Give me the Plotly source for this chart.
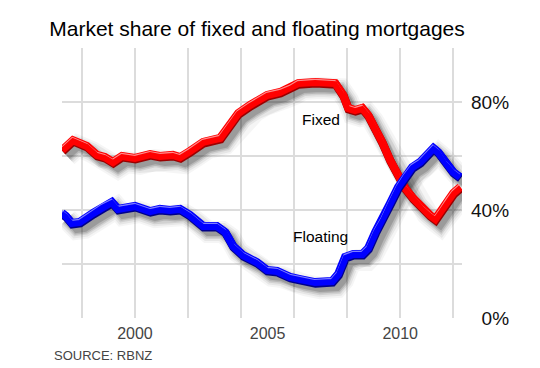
import plotly.graph_objects as go

# ---- data ----
fixed_years = [1997.25, 1997.66, 1998.19, 1998.57, 1998.87, 1999.17, 1999.51, 2000.00,
               2000.57, 2000.94, 2001.43, 2001.70, 2002.08, 2002.57, 2003.21, 2003.58,
               2003.89, 2004.34, 2004.72, 2004.98, 2005.47, 2005.85, 2006.15, 2006.79,
               2007.55, 2007.85, 2008.04, 2008.30, 2008.57, 2008.79, 2009.06, 2009.32,
               2009.62, 2009.92, 2010.19, 2010.49, 2010.83, 2011.13, 2011.32, 2011.51,
               2011.77, 2012.00, 2012.26]
fixed_share = [62.2, 65.9, 63.7, 60.4, 59.6, 57.8, 60.0, 59.3,
               60.7, 60.0, 60.4, 59.6, 61.9, 65.2, 66.7, 71.5,
               75.9, 78.9, 81.1, 82.6, 83.7, 85.2, 87.0, 87.4,
               87.0, 82.6, 77.8, 77.0, 77.8, 75.2, 70.4, 65.2,
               58.5, 53.0, 48.1, 44.4, 40.7, 38.1, 36.7, 39.3,
               43.3, 46.3, 48.5]

floating_years = [1997.25, 1997.40, 1997.62, 1997.92, 1998.42, 1998.75, 1999.13, 1999.36,
                  2000.00, 2000.57, 2000.94, 2001.32, 2001.70, 2002.08, 2002.57, 2003.09,
                  2003.40, 2003.70, 2004.08, 2004.60, 2004.98, 2005.36, 2005.85, 2006.23,
                  2006.79, 2007.43, 2007.66, 2007.92, 2008.23, 2008.57, 2008.79, 2009.06,
                  2009.32, 2009.62, 2009.92, 2010.19, 2010.45, 2010.75, 2011.06, 2011.25,
                  2011.43, 2011.70, 2012.00, 2012.26]
floating_share = [38.9, 37.8, 35.2, 35.6, 38.9, 41.1, 43.0, 40.4,
                  41.5, 39.6, 40.4, 40.0, 40.4, 38.1, 34.1, 34.1,
                  31.9, 26.7, 23.3, 20.7, 17.8, 17.4, 15.2, 14.4,
                  13.3, 13.7, 16.3, 22.6, 23.7, 23.7, 25.9, 31.9,
                  36.3, 42.6, 48.5, 52.6, 55.9, 57.8, 61.1, 63.0,
                  61.5, 57.4, 54.1, 52.2]

x_tick_vals = [2000, 2005, 2010]
x_tick_text = ["2000", "2005", "2010"]
x_grid_vals = [1998, 2000, 2002, 2004, 2006, 2008, 2010, 2012]
y_tick_vals = [0, 20, 40, 60, 80, 100]
y_tick_text = ["\u20070%", "", "40%", "", "80%", ""]

title_text = "Market share of fixed and floating mortgages"
source_text = "SOURCE: RBNZ"
series = [
    ("Fixed", fixed_years, fixed_share, "#ff0000", "#9a0000", "#ff8c8c", 2007.02, 73.7),
    ("Floating", floating_years, floating_share, "#0000ff", "#00008a", "#7f7fff", 2006.98, 30.2),
]

# ---- layout geometry ----
W, H = 540, 368
M_L, M_R, M_T, M_B = 62, 78, 48, 50
X_RANGE = [1997.25, 2012.33]
Y_RANGE = [0, 100]
px_per_year = (W - M_L - M_R) / (X_RANGE[1] - X_RANGE[0])
px_per_pct = (H - M_T - M_B) / (Y_RANGE[1] - Y_RANGE[0])

fig = go.Figure()

# drop shadows (offset copies of the data, down-right)
for name, xs, ys, col, dark, light, ax, ay in series:
    for width, op in [(22, 0.04), (18, 0.06), (14, 0.09), (11, 0.12), (8, 0.15)]:
        fig.add_trace(go.Scatter(
            x=[v + 5 / px_per_year for v in xs],
            y=[v - 6 / px_per_pct for v in ys],
            mode="lines", line=dict(color=f"rgba(0,0,0,{op})", width=width, shape="linear"),
            hoverinfo="skip", showlegend=False))

# the tube-like lines
for name, xs, ys, col, dark, light, ax, ay in series:
    fig.add_trace(go.Scatter(
        x=[v + 0.5 / px_per_year for v in xs], y=[v - 1.3 / px_per_pct for v in ys],
        mode="lines", line=dict(color=dark, width=8.5), hoverinfo="skip", showlegend=False))
    fig.add_trace(go.Scatter(
        x=xs, y=ys, mode="lines", name=name,
        line=dict(color=col, width=8), showlegend=False))
    fig.add_trace(go.Scatter(
        x=[v - 0.5 / px_per_year for v in xs], y=[v + 2.2 / px_per_pct for v in ys],
        mode="lines", line=dict(color=light, width=2), hoverinfo="skip", showlegend=False))
    fig.add_trace(go.Scatter(
        x=xs, y=ys, mode="lines", line=dict(color=col, width=4),
        hoverinfo="skip", showlegend=False))
    fig.add_annotation(x=ax, y=ay, text=name, showarrow=False,
                       font=dict(size=15.5, color="#000000"),
                       xanchor="center", yanchor="middle")

fig.add_annotation(xref="paper", yref="paper", x=(52 - M_L) / (W - M_L - M_R),
                   y=(318 - 355) / (H - M_T - M_B), text=source_text, showarrow=False,
                   xanchor="left", yanchor="middle",
                   font=dict(size=13, color="#444444"))

fig.update_layout(
    width=W, height=H,
    margin=dict(l=M_L, r=M_R, t=M_T, b=M_B),
    paper_bgcolor="white", plot_bgcolor="white",
    font=dict(family="Liberation Sans, Arial, sans-serif"),
    hovermode=False,
    title=dict(text=title_text, x=257 / W, xanchor="center",
               y=1 - 29 / H, yanchor="middle", yref="container",
               font=dict(size=21, color="#000000")),
    xaxis=dict(range=X_RANGE, tickvals=x_tick_vals, ticktext=x_tick_text,
               showgrid=False, zeroline=False, showline=False, ticks="",
               ticklabelstandoff=4,
               tickfont=dict(size=16, color="#444444"),
               minor=dict(tickvals=x_grid_vals, showgrid=True,
                          gridcolor="#dcdcdc", gridwidth=1.5, ticks="")),
    yaxis=dict(range=Y_RANGE, side="right", tickvals=y_tick_vals, ticktext=y_tick_text,
               showgrid=True, gridcolor="#dcdcdc", gridwidth=1.5,
               zeroline=False, showline=False, ticks="", ticklabelstandoff=8,
               tickfont=dict(size=19, color="#111111")),
)

fig.write_html("out.html",
               config={"displayModeBar": False},
               post_script="document.body.style.margin='0';document.body.style.overflow='hidden';")
